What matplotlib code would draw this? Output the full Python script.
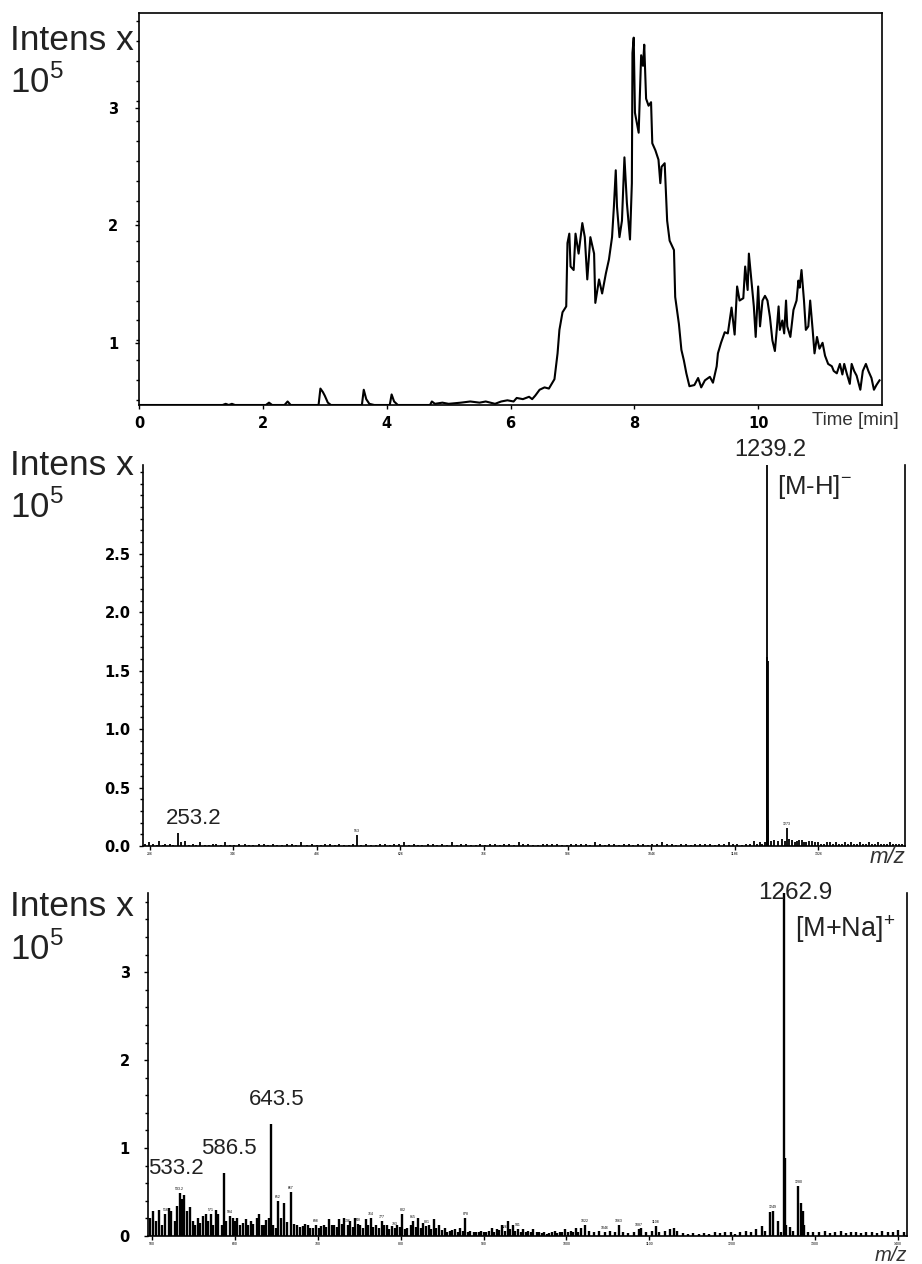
import numpy as np
import matplotlib
matplotlib.use('Agg')
import matplotlib.pyplot as plt
from matplotlib.ticker import MultipleLocator, FixedLocator

plt.rcParams['font.family'] = ['Liberation Sans', 'DejaVu Sans']
plt.rcParams['mathtext.fontset'] = 'custom'
plt.rcParams['mathtext.rm'] = 'Liberation Sans'

# ---- chromatogram (intensity x 1e5 vs time, min)
chrom_t = [0.0, 1.35, 1.40, 1.45, 1.50, 1.55, 2.05, 2.10, 2.15, 2.35, 2.40, 2.45,
           2.90, 2.93, 2.97, 3.00, 3.05, 3.10, 3.60, 3.63, 3.67, 3.72, 3.80,
           4.05, 4.08, 4.12, 4.18, 4.70, 4.73, 4.78, 4.90, 5.00, 5.20, 5.35,
           5.50, 5.60, 5.75, 5.85, 5.95, 6.05, 6.10, 6.20, 6.30, 6.35, 6.40,
           6.47, 6.55, 6.62, 6.71, 6.76, 6.79, 6.84, 6.90, 6.92, 6.95, 6.97,
           7.02, 7.05, 7.10, 7.16, 7.20, 7.24, 7.29, 7.35, 7.37, 7.43, 7.48,
           7.54, 7.59, 7.64, 7.67, 7.70, 7.72, 7.76, 7.80, 7.84, 7.88, 7.93,
           7.96, 7.97, 7.99, 8.01, 8.07, 8.11, 8.14, 8.16, 8.19, 8.23, 8.27,
           8.29, 8.34, 8.39, 8.42, 8.44, 8.49, 8.53, 8.57, 8.64, 8.66, 8.72,
           8.76, 8.80, 8.84, 8.89, 8.97, 9.03, 9.08, 9.14, 9.22, 9.27, 9.33,
           9.35, 9.40, 9.46, 9.51, 9.57, 9.62, 9.66, 9.70, 9.76, 9.79, 9.83,
           9.85, 9.89, 9.93, 9.96, 10.00, 10.03, 10.07, 10.11, 10.15, 10.19,
           10.23, 10.27, 10.30, 10.33, 10.35, 10.39, 10.42, 10.45, 10.47,
           10.52, 10.57, 10.62, 10.65, 10.67, 10.70, 10.74, 10.77, 10.81,
           10.84, 10.88, 10.91, 10.95, 10.99, 11.04, 11.08, 11.13, 11.19,
           11.22, 11.27, 11.32, 11.36, 11.39, 11.43, 11.48, 11.51, 11.55,
           11.59, 11.65, 11.69, 11.74, 11.78, 11.83, 11.87, 11.91, 11.96]
chrom_i = [0.47, 0.47, 0.48, 0.47, 0.48, 0.47, 0.47, 0.49, 0.47, 0.47, 0.50, 0.47,
           0.47, 0.61, 0.58, 0.55, 0.49, 0.47, 0.47, 0.60, 0.52, 0.48, 0.47,
           0.47, 0.56, 0.50, 0.47, 0.47, 0.50, 0.48, 0.49, 0.48, 0.49, 0.50,
           0.49, 0.50, 0.48, 0.50, 0.51, 0.50, 0.53, 0.52, 0.54, 0.52, 0.55,
           0.60, 0.62, 0.61, 0.69, 0.91, 1.11, 1.26, 1.31, 1.85, 1.93, 1.65,
           1.62, 1.93, 1.76, 2.02, 1.90, 1.54, 1.90, 1.76, 1.34, 1.54, 1.42,
           1.59, 1.71, 1.90, 2.16, 2.47, 2.16, 1.90, 2.04, 2.58, 2.19, 1.88,
           2.36, 3.47, 3.60, 2.96, 2.79, 3.45, 3.36, 3.54, 3.08, 3.02, 3.05,
           2.70, 2.64, 2.56, 2.36, 2.50, 2.53, 2.04, 1.87, 1.79, 1.39, 1.16,
           0.94, 0.85, 0.74, 0.63, 0.64, 0.70, 0.62, 0.68, 0.71, 0.66, 0.80,
           0.91, 1.00, 1.09, 1.08, 1.30, 1.07, 1.48, 1.36, 1.38, 1.65, 1.45,
           1.76, 1.53, 1.31, 1.05, 1.48, 1.14, 1.36, 1.40, 1.36, 1.22,
           1.02, 0.93, 1.11, 1.31, 1.11, 1.19, 1.08, 1.36, 1.14,
           1.05, 1.28, 1.36, 1.53, 1.47, 1.62, 1.36, 1.11, 1.14,
           1.36, 1.11, 0.91, 1.05, 0.95, 1.00, 0.89, 0.82, 0.80,
           0.76, 0.74, 0.82, 0.73, 0.82, 0.74, 0.65, 0.82, 0.76,
           0.72, 0.60, 0.76, 0.82, 0.76, 0.70, 0.60, 0.64, 0.68]
chrom_xticks = [0, 2, 4, 6, 8, 10]

# ---- negative mode spectrum (m/z, intensity x 1e5)
neg_mz = [199, 205, 212, 218, 222, 228, 232, 240, 246, 253.2, 258, 265, 272, 278,
          284, 290, 298, 305, 312, 318, 325, 332, 340, 348, 356, 365, 372, 380,
          390, 398, 405, 412, 420, 428, 436, 445, 452, 460, 470, 478, 486, 493,
          500, 508, 516, 524, 532, 540, 546, 553, 560, 568, 576, 585, 592, 600,
          608, 615, 624, 632, 640, 648, 656, 663, 672, 680, 688, 695, 704, 712,
          720, 728, 736, 745, 752, 760, 768, 776, 784, 792, 800, 808, 816, 825,
          832, 840, 848, 856, 864, 872, 880, 888, 896, 905, 912, 920, 928, 936,
          944, 952, 960, 968, 976, 984, 992, 1000, 1008, 1016, 1024, 1032, 1040,
          1048, 1056, 1064, 1072, 1080, 1088, 1096, 1104, 1112, 1120, 1128, 1136,
          1144, 1152, 1160, 1168, 1176, 1183, 1190, 1198, 1205, 1212, 1218, 1224,
          1228, 1232, 1236, 1239.2, 1240.2, 1241.2, 1242.2, 1246, 1252, 1258,
          1265, 1270, 1273, 1276, 1282, 1286, 1290, 1294, 1298, 1302, 1306, 1311,
          1316, 1321, 1326, 1331, 1336, 1341, 1346, 1351, 1356, 1361, 1366, 1371,
          1376, 1381, 1386, 1391, 1396, 1401, 1406, 1411, 1416, 1421, 1426, 1431,
          1436, 1441, 1446, 1451, 1456, 1461, 1466]
neg_int = [0.02, 0.03, 0.02, 0.01, 0.04, 0.01, 0.02, 0.02, 0.01, 0.11, 0.03, 0.04, 0.01, 0.02,
           0.01, 0.03, 0.01, 0.01, 0.02, 0.02, 0.01, 0.03, 0.01, 0.01, 0.02, 0.02, 0.01, 0.01,
           0.02, 0.02, 0.01, 0.02, 0.01, 0.01, 0.02, 0.02, 0.01, 0.03, 0.01, 0.02, 0.01, 0.01,
           0.02, 0.02, 0.01, 0.02, 0.01, 0.01, 0.02, 0.09, 0.01, 0.02, 0.01, 0.01, 0.02, 0.02,
           0.01, 0.02, 0.02, 0.03, 0.01, 0.02, 0.01, 0.01, 0.02, 0.02, 0.01, 0.02, 0.01, 0.03,
           0.01, 0.02, 0.02, 0.01, 0.01, 0.02, 0.01, 0.02, 0.02, 0.01, 0.02, 0.02, 0.01, 0.03,
           0.02, 0.02, 0.01, 0.01, 0.02, 0.02, 0.02, 0.02, 0.01, 0.01, 0.02, 0.02, 0.02, 0.02,
           0.01, 0.03, 0.02, 0.01, 0.02, 0.02, 0.01, 0.02, 0.02, 0.01, 0.02, 0.02, 0.01,
           0.02, 0.02, 0.03, 0.02, 0.02, 0.01, 0.02, 0.02, 0.01, 0.02, 0.02, 0.02,
           0.02, 0.01, 0.02, 0.02, 0.03, 0.02, 0.02, 0.01, 0.02, 0.02, 0.04, 0.02,
           0.03, 0.02, 0.03, 3.30, 1.62, 1.58, 0.22, 0.04, 0.05, 0.04,
           0.06, 0.04, 0.15, 0.06, 0.05, 0.03, 0.04, 0.05, 0.05, 0.03, 0.03, 0.04,
           0.04, 0.03, 0.03, 0.02, 0.02, 0.03, 0.03, 0.02, 0.03, 0.02, 0.02, 0.03,
           0.02, 0.03, 0.02, 0.02, 0.03, 0.02, 0.02, 0.03, 0.02, 0.02, 0.03, 0.02,
           0.02, 0.02, 0.03, 0.02, 0.02, 0.02, 0.02]
neg_xticks = [206, 346, 486, 626, 766, 906, 1046, 1186, 1326]

# ---- positive mode spectrum (m/z, intensity x 1e5)
pos_mz = [498, 501, 505, 508, 512, 516, 520, 523, 527, 530, 533.2, 536, 539, 542,
          546, 549, 552, 555, 558, 561, 565, 568, 571, 574, 577, 580, 584, 586.5,
          589, 594, 597, 600, 603, 606, 610, 613, 616, 619, 622, 626, 629, 632,
          635, 638, 641, 643.5, 646, 649, 652, 656, 659, 663, 667, 671, 675, 679,
          682, 685, 688, 691, 694, 698, 701, 704, 707, 710, 713, 717, 720, 723,
          726, 729, 732, 736, 739, 742, 745, 748, 751, 755, 758, 761, 764, 767,
          770, 774, 777, 780, 783, 786, 789, 793, 796, 799, 802, 805, 808, 812,
          815, 818, 821, 824, 827, 831, 834, 837, 840, 843, 846, 850, 853, 856,
          859, 862, 865, 869, 872, 875, 878, 881, 884, 888, 891, 894, 897, 900,
          903, 907, 910, 913, 916, 919, 922, 926, 929, 932, 935, 938, 941, 945,
          948, 951, 954, 957, 960, 964, 967, 970, 973, 976, 979, 983, 986, 989,
          992, 995, 998, 1002, 1005, 1008, 1011, 1014, 1017, 1022, 1027, 1033,
          1039, 1046, 1052, 1058, 1063, 1068, 1074, 1081, 1087, 1090, 1096, 1103,
          1108, 1112, 1119, 1125, 1130, 1134, 1141, 1147, 1153, 1160, 1166, 1172,
          1179, 1185, 1191, 1198, 1204, 1210, 1217, 1223, 1229, 1236, 1240, 1246,
          1249, 1255, 1259, 1262.9, 1263.9, 1265, 1270, 1274, 1280, 1283, 1285,
          1287, 1292, 1298, 1305, 1312, 1318, 1324, 1331, 1337, 1343, 1350, 1356,
          1362, 1369, 1375, 1381, 1388, 1394, 1400, 1407]
pos_int = [0.21, 0.28, 0.17, 0.30, 0.13, 0.25, 0.32, 0.28, 0.17, 0.34, 0.49, 0.42, 0.47, 0.28,
           0.33, 0.17, 0.13, 0.21, 0.15, 0.23, 0.25, 0.17, 0.25, 0.13, 0.29, 0.25, 0.13, 0.72,
           0.17, 0.23, 0.21, 0.17, 0.21, 0.12, 0.15, 0.19, 0.13, 0.17, 0.14, 0.20, 0.25, 0.12,
           0.13, 0.18, 0.21, 1.27, 0.12, 0.09, 0.40, 0.21, 0.38, 0.16, 0.50, 0.14, 0.13, 0.10,
           0.11, 0.14, 0.13, 0.09, 0.09, 0.12, 0.09, 0.11, 0.13, 0.10, 0.19, 0.12, 0.13, 0.10,
           0.19, 0.14, 0.21, 0.12, 0.17, 0.10, 0.21, 0.14, 0.13, 0.09, 0.19, 0.12, 0.21, 0.10,
           0.13, 0.09, 0.17, 0.12, 0.13, 0.08, 0.11, 0.09, 0.13, 0.10, 0.25, 0.08, 0.09, 0.12,
           0.17, 0.10, 0.21, 0.09, 0.15, 0.11, 0.13, 0.08, 0.19, 0.09, 0.13, 0.07, 0.09, 0.05,
           0.06, 0.07, 0.08, 0.05, 0.09, 0.06, 0.21, 0.05, 0.06, 0.04, 0.04, 0.05, 0.06, 0.04,
           0.04, 0.06, 0.09, 0.05, 0.08, 0.07, 0.13, 0.06, 0.17, 0.08, 0.13, 0.06, 0.08, 0.05,
           0.08, 0.04, 0.06, 0.05, 0.08, 0.04, 0.04, 0.03, 0.04, 0.02, 0.03, 0.05, 0.06, 0.03,
           0.04, 0.05, 0.08, 0.04, 0.06, 0.05, 0.09, 0.04, 0.09, 0.13, 0.06, 0.04,
           0.06, 0.04, 0.06, 0.04, 0.13, 0.04, 0.03, 0.04, 0.08, 0.09, 0.04, 0.06,
           0.11, 0.04, 0.06, 0.08, 0.09, 0.06, 0.03, 0.02, 0.03, 0.02, 0.03, 0.02,
           0.04, 0.03, 0.05, 0.04, 0.02, 0.04, 0.06, 0.04, 0.08, 0.11, 0.06, 0.27,
           0.28, 0.17, 0.04, 3.95, 0.89, 0.12, 0.10, 0.06, 0.57, 0.38, 0.28,
           0.13, 0.05, 0.04, 0.04, 0.06, 0.03, 0.04, 0.06, 0.03, 0.04, 0.05, 0.03,
           0.04, 0.05, 0.03, 0.06, 0.04, 0.05, 0.07, 0.04]
pos_xticks = [500, 600, 700, 800, 900, 1000, 1100, 1200, 1300, 1400]

# tiny peak tags (illegible in the original, kept as real text)
neg_tags = [553, 1273]
pos_tags = [516, 533.2, 571, 594, 652, 667, 698, 736, 748, 764, 777, 793, 802,
            815, 831, 878, 926, 941, 1022, 1046, 1063, 1087, 1108, 1249, 1280]

TXT = '#222222'

fig = plt.figure(figsize=(9.22, 12.64), dpi=100)
ax1 = fig.add_axes([139/922, 1-405/1264, 743/922, 392/1264])
ax2 = fig.add_axes([143/922, 1-846/1264, 762/922, 381/1264])
ax3 = fig.add_axes([148/922, 1-1236/1264, 759/922, 343/1264])

tickfont = dict(fontfamily='DejaVu Sans', fontweight='bold', fontsize=10.5)

# ---- top: chromatogram
ax1.plot(chrom_t, chrom_i, color='k', lw=1.5)
ax1.set_xlim(0, 12)
ax1.set_ylim(0.47, 3.81)
ax1.set_xticks(chrom_xticks)
ax1.set_xticklabels([str(v) for v in chrom_xticks], **tickfont)
ax1.set_yticks([1, 2, 3])
ax1.set_yticklabels(['1', '2', '3'], **tickfont)
ax1.yaxis.set_minor_locator(MultipleLocator(0.17))
ax1.tick_params(direction='out', length=3, width=1, pad=5)
ax1.tick_params(axis='y', pad=12)
ax1.tick_params(which='minor', direction='out', length=2, width=1)
for s in ax1.spines.values():
    s.set_linewidth(1.2)
ax1.text((812 - 139) / 743, -0.04, 'Time [min]', transform=ax1.transAxes, ha='left',
         va='center', fontsize=13.5, color='#333333')

# ---- middle: negative spectrum
ax2.vlines(neg_mz, 0, neg_int, color='k', lw=1.3)
ax2.set_xlim(195, 1471)
ax2.set_ylim(0, 3.26)
ax2.set_yticks([0, 0.5, 1.0, 1.5, 2.0, 2.5])
ax2.set_yticklabels(['0.0', '0.5', '1.0', '1.5', '2.0', '2.5'], **tickfont)
ax2.yaxis.set_minor_locator(MultipleLocator(0.1))
ax2.set_xticks(neg_xticks)
ax2.set_xticklabels([str(v) for v in neg_xticks], fontsize=2.5)
ax2.spines['top'].set_visible(False)
ax2.tick_params(direction='out', length=3, width=1, pad=1)
ax2.tick_params(axis='y', pad=6)
ax2.tick_params(which='minor', direction='out', length=2, width=1)
for s in ax2.spines.values():
    s.set_linewidth(1.2)
ax2.annotate('253.2', xy=(253.2, 0.11), xytext=(16, 4), textcoords='offset pixels',
             ha='center', va='bottom', fontsize=16, color=TXT)
ax2.annotate('1239.2', xy=(1239.2, 3.26), xytext=(4, 4), textcoords='offset pixels',
             ha='center', va='bottom', fontsize=17, color=TXT, annotation_clip=False)
ax2.annotate('[M-H]$^{-}$', xy=(1239.2, 3.26), xytext=(10, -22), textcoords='offset pixels',
             ha='left', va='center', fontsize=18.5, color=TXT, annotation_clip=False)
for m in neg_tags:
    ax2.annotate(str(m), xy=(m, neg_int[neg_mz.index(m)]), xytext=(0, 2),
                 textcoords='offset pixels', ha='center', va='bottom', fontsize=2.5)
ax2.text(1.0, -0.03, 'm/z', transform=ax2.transAxes, ha='right', va='center',
         fontsize=16, style='italic', color='#333333')

# ---- bottom: positive spectrum
ax3.vlines(pos_mz, 0, pos_int, color='k', lw=1.7)
ax3.set_xlim(495, 1411)
ax3.set_ylim(0, 3.9)
ax3.set_yticks([0, 1, 2, 3])
ax3.set_yticklabels(['0', '1', '2', '3'], **tickfont)
ax3.yaxis.set_minor_locator(MultipleLocator(0.2))
ax3.set_xticks(pos_xticks)
ax3.set_xticklabels([str(v) for v in pos_xticks], fontsize=2.5)
ax3.spines['top'].set_visible(False)
ax3.tick_params(direction='out', length=3, width=1, pad=1)
ax3.tick_params(axis='y', pad=10)
ax3.tick_params(which='minor', direction='out', length=2, width=1)
for s in ax3.spines.values():
    s.set_linewidth(1.2)
for m, lab, dx, dy in [(533.2, '533.2', -4, 14), (586.5, '586.5', 5, 14), (643.5, '643.5', 6, 14)]:
    ax3.annotate(lab, xy=(m, pos_int[pos_mz.index(m)]), xytext=(dx, dy),
                 textcoords='offset pixels', ha='center', va='bottom', fontsize=16, color=TXT)
ax3.annotate('1262.9', xy=(1262.9, 1.0), xycoords=('data', 'axes fraction'),
             xytext=(11, 0), textcoords='offset pixels', ha='center', va='center',
             fontsize=17.5, color=TXT, annotation_clip=False)
ax3.annotate('[M+Na]$^{+}$', xy=(1262.9, 1.0), xycoords=('data', 'axes fraction'),
             xytext=(11, -36), textcoords='offset pixels', ha='left', va='center',
             fontsize=19.5, color=TXT, annotation_clip=False)
for m in pos_tags:
    ax3.annotate(str(m), xy=(m, pos_int[pos_mz.index(m)]), xytext=(0, 2),
                 textcoords='offset pixels', ha='center', va='bottom', fontsize=2.5)
ax3.text(1.0, -0.03, 'm/z', transform=ax3.transAxes, ha='right', va='top',
         fontsize=14.5, style='italic', color='#333333')

# ---- "Intens x 10^5" labels
for ytop in [40, 465, 907]:
    fig.text(10/922, 1 - ytop/1264, 'Intens x', ha='left', va='center', fontsize=25.5, color=TXT)
    fig.text(10/922, 1 - (ytop + 42)/1264, r'10$^{5}$', ha='left', va='center', fontsize=25,
             color=TXT)

fig.savefig('out.png', dpi=100)
